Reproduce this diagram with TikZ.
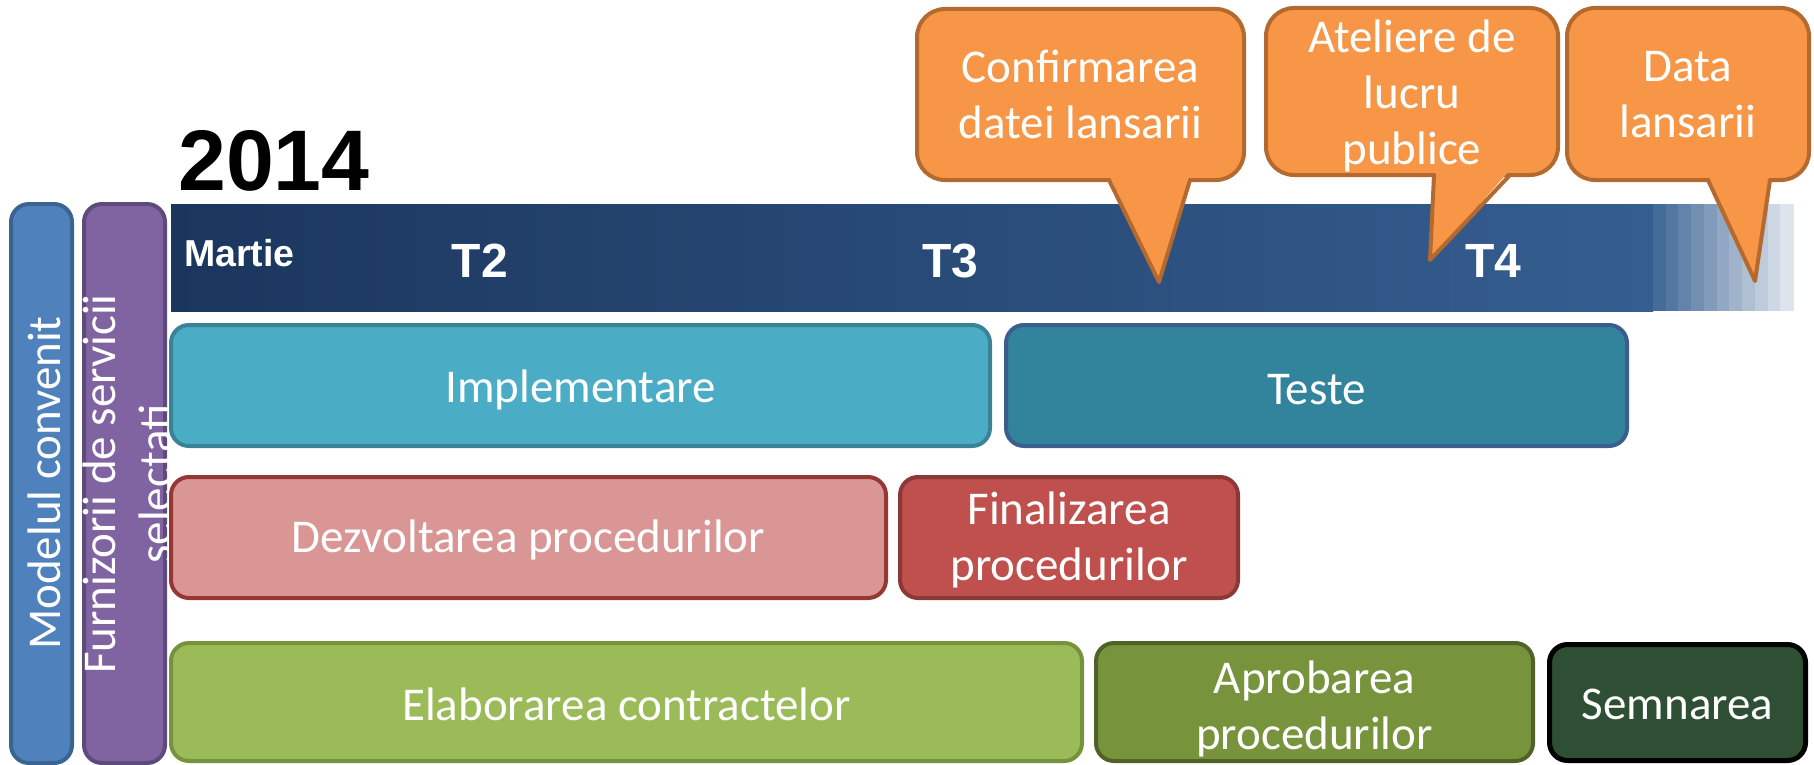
\documentclass[tikz,border=0pt]{standalone}
\usepackage{fontspec}
\setmainfont{Carlito}
\newfontfamily\headfont{Liberation Sans}
\definecolor{modF}{HTML}{4F81BD}\definecolor{modD}{HTML}{3B6491}
\definecolor{furF}{HTML}{8064A2}\definecolor{furD}{HTML}{5E4B7C}
\definecolor{impF}{HTML}{4BACC6}\definecolor{impD}{HTML}{3A8396}
\definecolor{tesF}{HTML}{31849B}\definecolor{tesD}{HTML}{3B5E8E}
\definecolor{dezF}{HTML}{D99694}\definecolor{dezD}{HTML}{953735}
\definecolor{finF}{HTML}{C0504D}\definecolor{finD}{HTML}{8C3836}
\definecolor{elaF}{HTML}{9BBB59}\definecolor{elaD}{HTML}{76923C}
\definecolor{aprF}{HTML}{77933C}\definecolor{aprD}{HTML}{4F6228}
\definecolor{semF}{HTML}{2F4F34}
\definecolor{barL}{HTML}{1B365D}\definecolor{barR}{HTML}{355E90}
\definecolor{callF}{HTML}{F79646}\definecolor{callD}{HTML}{B4692F}
\newcommand\bxfont{\fontsize{47}{56}\selectfont}
\begin{document}
\begin{tikzpicture}[x=1pt,y=-1pt,
  box/.style={rounded corners=18pt, line width=4pt, inner sep=0pt},
  boxtext/.style={text=white, font=\bxfont, align=center, inner sep=0pt},
  callbody/.style={rounded corners=28pt, line width=4pt, fill=callF, draw=callD, inner sep=0pt},
  calltext/.style={text=white, font=\bxfont, align=center, inner sep=0pt},
  pointer/.style={draw=callD, line width=4pt, line join=round, line cap=round},
  bartext/.style={text=white, inner sep=0pt, font=\headfont\bfseries\fontsize{48}{52}\selectfont}]
\useasboundingbox (0,0) rectangle (1814,765);
% year
\node[anchor=base west, inner sep=0pt, font=\headfont\bfseries\fontsize{86}{90}\selectfont] (year) at (178,190) {2014};
% timeline bar
\shade[left color=barL, right color=barR] (171,204) rectangle (1653,311);
\foreach \i in {0,...,10}{
  \pgfmathsetmacro\p{92-7.5*\i}
  \fill[barR!\p!white] ({1653+12.73*\i},204) rectangle ({1653+12.73*(\i+1)+0.6},311);
}
\node[bartext, anchor=base west, font=\headfont\bfseries\fontsize{37.5}{40}\selectfont] (martie) at (184,266) {Martie};
\node[bartext, anchor=base] (t2) at (480,277) {T2};
\node[bartext, anchor=base] (t3) at (950,277) {T3};
\node[bartext, anchor=base] (t4) at (1493,277) {T4};
% vertical bars
\node[box, fill=modF, draw=modD, minimum width=61, minimum height=559] (model) at (41.5,483.5) {};
\node[rotate=90, boxtext] (modelt) at (44,483) {Modelul convenit};
\node[box, fill=furF, draw=furD, minimum width=81, minimum height=559] (furn) at (124.5,483.5) {};
\node[rotate=90, boxtext] (furnt) at (127,484) {Furnizorii de servicii\\selectati};
% task boxes
\node[box, fill=impF, draw=impD, minimum width=819, minimum height=121] (impl) at (580.5,385.5) {};
\node[boxtext] (implt) at ([yshift=-4pt]impl.center) {Implementare};
\node[box, fill=tesF, draw=tesD, minimum width=621, minimum height=121] (teste) at (1316.5,385.5) {};
\node[boxtext] (testet) at ([yshift=-4pt]teste.center) {Teste};
\node[box, fill=dezF, draw=dezD, minimum width=715, minimum height=121] (dezv) at (528.5,537.5) {};
\node[boxtext] (dezvt) at ([yshift=-2pt]dezv.center) {Dezvoltarea procedurilor};
\node[box, fill=finF, draw=finD, minimum width=338, minimum height=121] (final) at (1069,537.5) {};
\node[boxtext] (finalt) at ([yshift=-2pt]final.center) {Finalizarea\\procedurilor};
\node[box, fill=elaF, draw=elaD, minimum width=911, minimum height=118] (elab) at (626.5,702) {};
\node[boxtext] (elabt) at ([yshift=-2pt]elab.center) {Elaborarea contractelor};
\node[box, fill=aprF, draw=aprD, minimum width=437, minimum height=118] (aprob) at (1314.5,702) {};
\node[boxtext] (aprobt) at ([yshift=-7pt]aprob.center) {Aprobarea\\procedurilor};
\node[box, fill=semF, draw=black, line width=5pt, minimum width=256, minimum height=116] (semn) at (1677.5,702.5) {};
\node[boxtext] (semnt) at ([yshift=-2pt]semn.center) {Semnarea};
% callout 1
\node[callbody, minimum width=327, minimum height=171] (c1) at (1080.5,94.5) {};
\fill[callF] (1109,175) -- (1190,175) -- (1159,282) -- cycle;
\draw[pointer] (1109,180) -- (1159,282) -- (1190,180);
\node[calltext] (c1t) at (1080.5,94.5) {Confirmarea\\datei lansarii};
% callout 2
\node[callbody, minimum width=292, minimum height=167] (c2) at (1412,91.5) {};
\fill[callF] (1434,170) -- (1510,170) -- (1430,260) -- cycle;
\draw[pointer] (1434,175) -- (1430,260) -- (1510,175);
\node[calltext] (c2t) at (1412,96) {Ateliere de\\lucru\\publice};
% callout 3
\node[callbody, minimum width=242, minimum height=172] (c3) at (1688,94) {};
\fill[callF] (1708,175) -- (1770,175) -- (1755,281) -- cycle;
\draw[pointer] (1708,180) -- (1755,281) -- (1770,180);
\node[calltext] (c3t) at (1688,94.5) {Data\\lansarii};
\end{tikzpicture}
\end{document}
